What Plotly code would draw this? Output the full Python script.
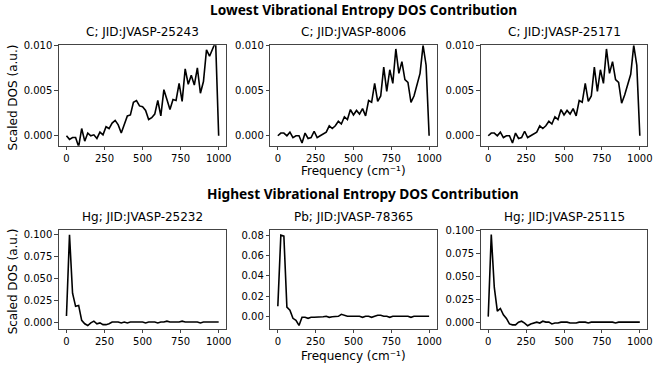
import plotly.graph_objects as go

# frequency grid (cm^-1), 20 cm^-1 spacing
freq = list(range(0, 1001, 20))

# lowest vibrational entropy (row 1)
dos_c_25243 = [0.0000, -0.0004, -0.0002, -0.0002, -0.0012, 0.0008, -0.0006, 0.0003, 0.0000, 0.0001,
               -0.0003, 0.0004, 0.0001, 0.0010, 0.0008, 0.0014, 0.0017, 0.0012, 0.0003, 0.0012,
               0.0022, 0.0023, 0.0037, 0.0039, 0.0033, 0.0032, 0.0028, 0.0018, 0.0020, 0.0024,
               0.0039, 0.0022, 0.0051, 0.0040, 0.0029, 0.0040, 0.0039, 0.0058, 0.0038, 0.0074,
               0.0057, 0.0067, 0.0056, 0.0075, 0.0047, 0.0060, 0.0095, 0.0088, 0.0096, 0.0104,
               0.0000]
dos_c_8006 = [0.0000, 0.0003, 0.0003, 0.0000, 0.0004, -0.0002, 0.0000, 0.0000, -0.0008, 0.0003,
              -0.0003, -0.0002, 0.0005, -0.0002, 0.0000, 0.0002, 0.0004, 0.0011, 0.0008, 0.0011,
              0.0016, 0.0013, 0.0021, 0.0018, 0.0029, 0.0023, 0.0028, 0.0024, 0.0030, 0.0022,
              0.0039, 0.0037, 0.0058, 0.0038, 0.0044, 0.0076, 0.0049, 0.0073, 0.0058, 0.0096,
              0.0069, 0.0082, 0.0062, 0.0059, 0.0037, 0.0044, 0.0058, 0.0069, 0.0100, 0.0078,
              0.0000]
dos_c_25171 = [0.0000, 0.0003, 0.0003, 0.0000, 0.0004, -0.0002, 0.0000, 0.0000, -0.0008, 0.0003,
               -0.0003, -0.0002, 0.0005, -0.0002, 0.0000, 0.0002, 0.0004, 0.0011, 0.0008, 0.0011,
               0.0016, 0.0013, 0.0021, 0.0018, 0.0029, 0.0023, 0.0028, 0.0024, 0.0030, 0.0022,
               0.0039, 0.0037, 0.0058, 0.0038, 0.0044, 0.0076, 0.0049, 0.0073, 0.0058, 0.0096,
               0.0069, 0.0082, 0.0062, 0.0059, 0.0036, 0.0045, 0.0058, 0.0068, 0.0100, 0.0078,
               0.0000]

# highest vibrational entropy (row 2)
dos_hg_25232 = [0.007, 0.100, 0.033, 0.018, 0.019, 0.002, -0.002, -0.004, -0.001, 0.001,
                -0.002, -0.001, -0.003, -0.003, -0.002, 0.000, 0.000, 0.000, -0.001, 0.000,
                -0.001, 0.000, 0.000, 0.000, 0.000, 0.000, -0.001, 0.000, 0.000, 0.000,
                -0.001, 0.000, 0.000, 0.001, 0.000, 0.000, 0.000, 0.000, 0.001, 0.000,
                0.000, 0.000, 0.000, 0.000, -0.001, 0.000, 0.000, 0.000, 0.000, 0.000,
                0.000]
dos_pb_78365 = [0.010, 0.080, 0.079, 0.009, 0.006, -0.002, -0.004, -0.009, -0.001, -0.001,
                -0.002, -0.001, -0.001, -0.001, -0.0005, -0.0005, 0.000, -0.001, -0.0005, 0.000,
                0.000, 0.002, 0.001, 0.000, 0.000, 0.000, 0.000, 0.000, -0.001, 0.000,
                0.000, -0.001, 0.000, 0.001, 0.001, 0.000, 0.000, -0.001, 0.000, 0.000,
                0.000, 0.000, 0.000, 0.000, -0.001, 0.000, 0.000, 0.000, 0.000, 0.000,
                0.000]
dos_hg_25115 = [0.006, 0.096, 0.038, 0.012, 0.015, 0.008, 0.004, -0.002, -0.003, -0.003,
                0.000, 0.001, -0.001, -0.004, -0.002, -0.001, 0.000, -0.001, 0.001, 0.000,
                0.000, -0.002, -0.001, -0.001, 0.000, 0.000, 0.000, -0.001, -0.001, -0.001,
                0.000, 0.000, 0.000, -0.001, 0.000, 0.000, 0.000, 0.000, 0.000, 0.000,
                0.000, 0.000, -0.001, 0.000, 0.000, 0.000, 0.000, 0.000, 0.000, 0.000,
                0.000]

titles = ["C; JID:JVASP-25243", "C; JID:JVASP-8006", "C; JID:JVASP-25171",
          "Hg; JID:JVASP-25232", "Pb; JID:JVASP-78365", "Hg; JID:JVASP-25115"]
series = [dos_c_25243, dos_c_8006, dos_c_25171, dos_hg_25232, dos_pb_78365, dos_hg_25115]
y_ranges = [[-0.0011, 0.0100], [-0.0011, 0.0100], [-0.0011, 0.0100],
            [-0.0076, 0.1050], [-0.0122, 0.0848], [-0.0072, 0.1007]]
y_ticks = [[0, 0.005, 0.01]] * 3 + [[0, 0.025, 0.05, 0.075, 0.1],
                                   [0, 0.02, 0.04, 0.06, 0.08],
                                   [0, 0.025, 0.05, 0.075, 0.1]]
y_fmt = [".3f", ".3f", ".3f", ".3f", ".2f", ".3f"]

W, H = 665, 370
x_doms = [(59.3, 228), (272.3, 440), (484.3, 652.3)]
y_doms = [(40, 142), (228, 328)]

font = "DejaVu Sans"
fig = go.Figure()
annotations = []
for k in range(6):
    r, c = divmod(k, 3)
    n = k + 1
    xa = "x" if n == 1 else f"x{n}"
    ya = "y" if n == 1 else f"y{n}"
    fig.add_trace(go.Scatter(x=freq, y=series[k], mode="lines",
                             line=dict(color="black", width=1.6),
                             xaxis=xa, yaxis=ya, showlegend=False))
    x0, x1 = x_doms[c]
    top, bot = y_doms[r]
    axis_common = dict(showline=True, mirror=True, linecolor="#444", linewidth=1,
                       ticks="outside", ticklen=3.5, tickcolor="#444",
                       showgrid=False, zeroline=False,
                       tickfont=dict(family=font, size=10, color="black"))
    fig.layout[f"xaxis{n if n > 1 else ''}"] = dict(
        domain=[x0 / W, x1 / W], anchor=ya, range=[-50, 1050],
        tickvals=[0, 250, 500, 750, 1000], **axis_common)
    fig.layout[f"yaxis{n if n > 1 else ''}"] = dict(
        domain=[1 - bot / H, 1 - top / H], anchor=xa, range=y_ranges[k],
        tickvals=y_ticks[k], tickformat=y_fmt[k], **axis_common)
    annotations.append(dict(text=titles[k], x=(x0 + x1) / 2 / W, y=1 - (top - 4) / H,
                            xref="paper", yref="paper", xanchor="center", yanchor="bottom",
                            showarrow=False, font=dict(family=font, size=12, color="black")))

# row headings
for txt, yc in [("Lowest Vibrational Entropy DOS Contribution", 4),
                ("Highest Vibrational Entropy DOS Contribution", 191)]:
    annotations.append(dict(text=f"<b>{txt}</b>", x=366 / W, y=1 - yc / H,
                            xref="paper", yref="paper", xanchor="center", yanchor="middle",
                            showarrow=False, font=dict(family="Noto Sans", size=13.7, color="black")))

# axis labels
for yc in [93, 280]:
    annotations.append(dict(text="Scaled DOS (a.u.)", x=14 / W, y=1 - yc / H, textangle=-90,
                            xref="paper", yref="paper", xanchor="center", yanchor="middle",
                            showarrow=False, font=dict(family=font, size=12, color="black")))
for yc in [168, 356]:
    annotations.append(dict(text="Frequency (cm⁻¹)", x=356 / W, y=1 - yc / H,
                            xref="paper", yref="paper", xanchor="center", yanchor="middle",
                            showarrow=False, font=dict(family=font, size=12, color="black")))

fig.update_layout(width=W, height=H, margin=dict(l=0, r=0, t=0, b=0),
                  paper_bgcolor="white", plot_bgcolor="white",
                  annotations=annotations)

# drop the default page margin so the figure sits at the window's corner
fig.write_html("out.html", config={"displayModeBar": False},
               post_script="document.body.style.margin='0';")
